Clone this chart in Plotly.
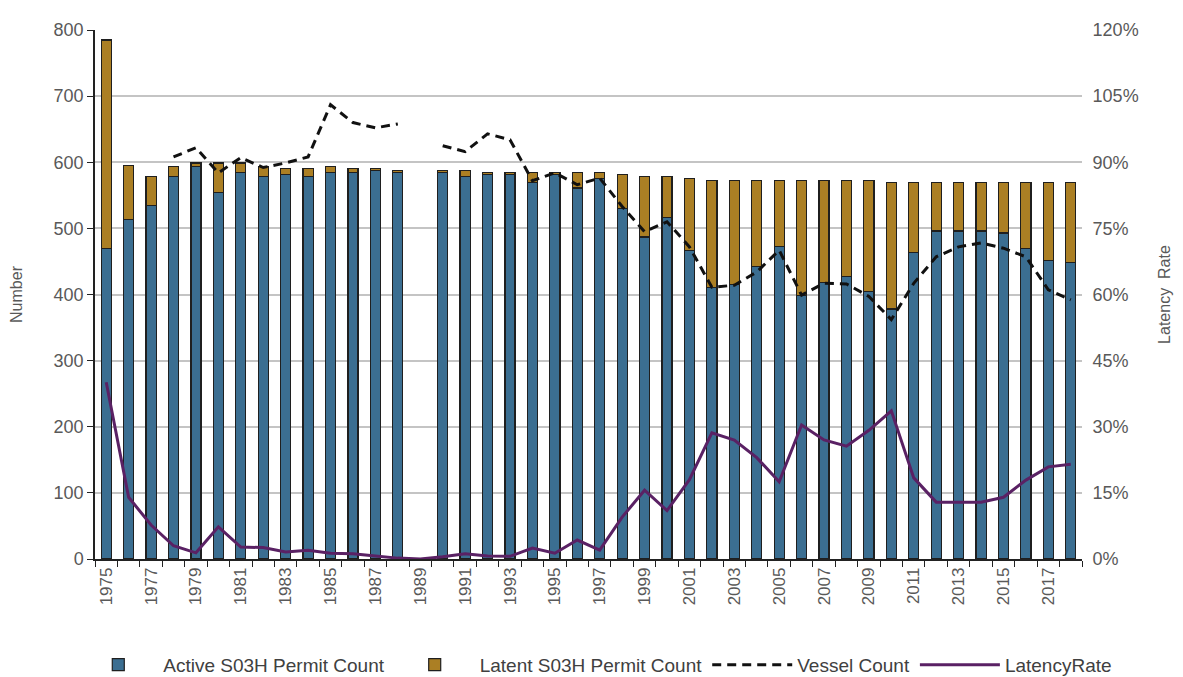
import plotly.graph_objects as go

years = list(range(1975, 2019))

# permit counts (None = no data for that year)
active = [470, 513, 535, 578, 593, 554, 584, 578, 581, 578, 584, 584, 587, 584,
          None, 584, 578, 581, 581, 569, 581, 561, 576, 530, 487, 516, 467, 410,
          415, 442, 472, 398, 418, 427, 405, 378, 463, 496, 496, 496, 493, 469, 452, 448]
latent = [315, 82, 43, 15, 6, 45, 15, 15, 10, 13, 9, 6, 4, 3,
          None, 3, 9, 3, 3, 15, 4, 23, 8, 51, 91, 62, 108, 162,
          157, 130, 100, 174, 154, 145, 167, 191, 106, 73, 73, 73, 76, 100, 117, 121]
vessels = [None, None, None, 608, 622, 584, 607, 592, 599, 608, 687, 660, 652, 658,
           None, 625, 616, 643, 634, 572, 584, 566, 576, 533, 495, 510, 472, 411,
           414, 434, 467, 399, 417, 416, 397, 362, 417, 457, 472, 478, 470, 457, 407, 392]
latency = [0.401, 0.14, 0.077, 0.03, 0.014, 0.073, 0.027, 0.026, 0.016, 0.02, 0.013, 0.012, 0.007, 0.002,
           0.0, 0.005, 0.012, 0.007, 0.006, 0.025, 0.013, 0.043, 0.02, 0.095, 0.156, 0.11, 0.18, 0.286,
           0.27, 0.23, 0.175, 0.304, 0.27, 0.256, 0.292, 0.336, 0.184, 0.129, 0.129, 0.129, 0.14, 0.179, 0.209, 0.215]

left_ticks = list(range(0, 900, 100))
right_ticks = [0, 0.15, 0.3, 0.45, 0.6, 0.75, 0.9, 1.05, 1.2]
label_years = list(range(1975, 2018, 2))

FONT = "Liberation Sans, Arial, sans-serif"
TXT = "#595959"

fig = go.Figure()

fig.add_trace(go.Bar(
    name='Active S03H Permit Count',
    x=years, y=active,
    marker=dict(color='#3b6e91', line=dict(color='#1f1f1f', width=1.2)),
))
fig.add_trace(go.Bar(
    name='Latent S03H Permit Count',
    x=years, y=latent,
    marker=dict(color='#ab7f24', line=dict(color='#1f1f1f', width=1.2)),
))
fig.add_trace(go.Scatter(
    name='Vessel Count',
    x=years, y=vessels,
    mode='lines',
    line=dict(color='#111111', width=3, dash='9px,6px'),
    connectgaps=False,
))
fig.add_trace(go.Scatter(
    name='LatencyRate',
    x=years, y=latency,
    mode='lines',
    yaxis='y2',
    line=dict(color='#5a2164', width=3),
))

# the page body adds an 8px offset, margins compensate for it
fig.update_layout(
    width=1183, height=677,
    barmode='stack',
    bargap=0.55,
    plot_bgcolor='white',
    paper_bgcolor='white',
    font=dict(family=FONT, size=17, color=TXT),
    margin=dict(l=87, r=109, t=22, b=126, autoexpand=False),
    xaxis=dict(
        range=[1974.5, 2018.5],
        tickmode='array', tickvals=label_years,
        ticktext=[str(y) for y in label_years],
        tickangle=-90,
        ticks='',
        showgrid=False,
        showline=True, linecolor='#222222', linewidth=1.5,
        tickfont=dict(size=17, color=TXT),
        automargin=False,
        minor=dict(tickmode='array', tickvals=[y + 0.5 for y in range(1974, 2019)],
                   ticks='outside', ticklen=6, tickcolor='#222222', showgrid=False),
    ),
    yaxis=dict(
        title=dict(text='Number', standoff=30, font=dict(size=16, color=TXT)),
        range=[0, 800],
        tickmode='array', tickvals=left_ticks,
        showline=True, linecolor='#222222', linewidth=1.5,
        ticks='outside', ticklen=6, tickcolor='#222222',
        showgrid=True, gridcolor='#c4c4c4', gridwidth=1.5,
        zeroline=False,
        automargin=False,
        tickfont=dict(size=18, color=TXT),
    ),
    yaxis2=dict(
        title=dict(text='Latency  Rate', standoff=21, font=dict(size=16, color=TXT)),
        overlaying='y', side='right',
        range=[0, 1.2],
        tickmode='array', tickvals=right_ticks,
        tickformat='.0%',
        showgrid=False, showline=False, zeroline=False,
        ticks='outside', ticklen=6, tickcolor='rgba(0,0,0,0)',
        automargin=False,
        tickfont=dict(size=18, color=TXT),
    ),
    legend=dict(
        orientation='h',
        x=-0.022, xanchor='left',
        y=-0.2, yanchor='middle',
        font=dict(size=19, color='#404040'),
        itemwidth=80,
        traceorder='normal',
    ),
)

fig.write_html("out.html")
